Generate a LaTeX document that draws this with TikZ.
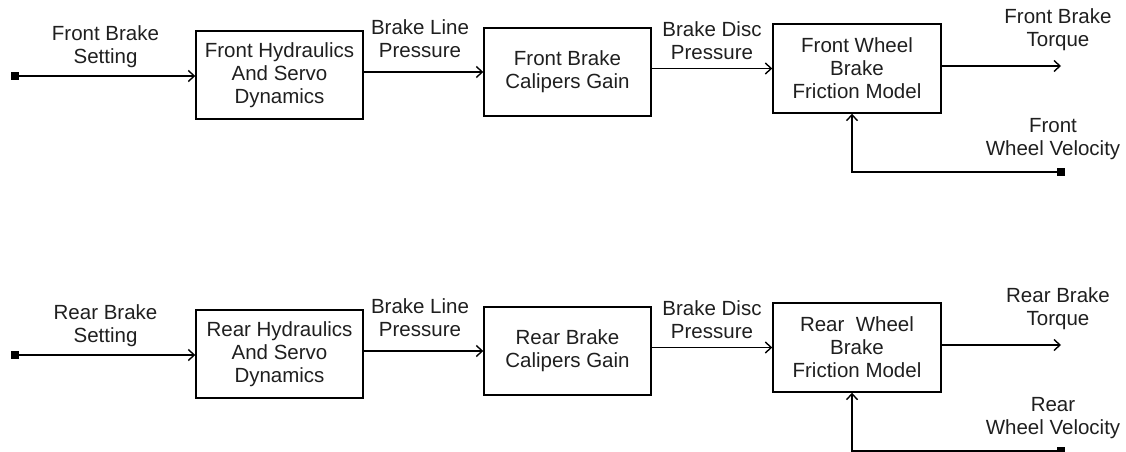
\documentclass[tikz,border=0pt]{standalone}
\usepackage{fontspec}
\setmainfont{Liberation Sans}
\usetikzlibrary{arrows.meta}
\begin{document}
\begin{tikzpicture}[x=1pt,y=-1pt,
  every node/.style={font=\fontsize{20.5}{23}\selectfont, text=black!88, inner sep=0pt},
  blk/.style={draw, line width=1.4pt, minimum width=167pt, minimum height=88pt, align=center},
  lbl/.style={align=center},
  term/.style={fill=black, minimum size=8.5pt},
  conn/.style={line width=1.4pt, -{Straight Barb[length=6pt,width=11pt]}},
  wire/.style={line width=1.4pt}]
\useasboundingbox (0,0) rectangle (1126,452);

% ---------- Front row ----------
\node[term] (fin) at (15,76) {};
\node[blk] (f1) at (279.5,75) {Front Hydraulics\\And Servo\\Dynamics};
\node[blk] (f2) at (567.5,72) {Front Brake\\Calipers Gain};
\node[blk, minimum width=168pt, minimum height=89pt] (f3) at (857,68.5) {Front Wheel\\Brake\\Friction Model};
\coordinate (fout) at (1061,66);
\node[term] (ffb) at (1061,172) {};
\coordinate (ffbx) at (852,172);

\node[lbl] (lf0) at (105.5,46.5) {Front Brake\\Setting};
\node[lbl] (lf1) at (420,38.5) {Brake Line\\Pressure};
\node[lbl] (lf2) at (712,40.5) {Brake Disc\\Pressure};
\node[lbl] (lf3) at (1058,30) {Front Brake\\Torque};
\node[lbl] (lf4) at (1053,139) {Front\\Wheel Velocity};

\draw[conn] (fin.center) -- (fin.center -| f1.west);
\draw[conn] (f1.east |- f2.west) -- (f2.west);
\draw[conn] (f2.east |- f3.west) -- (f3.west);
\draw[conn] (f3.east |- fout) -- (fout);
\draw[conn] (ffb.center) -- (ffbx) -- (ffbx |- f3.south);

% ---------- Rear row ----------
\begin{scope}[yshift=-279pt]
\node[term] (rin) at (15,76) {};
\node[blk] (r1) at (279.5,75) {Rear Hydraulics\\And Servo\\Dynamics};
\node[blk] (r2) at (567.5,72) {Rear Brake\\Calipers Gain};
\node[blk, minimum width=168pt, minimum height=89pt] (r3) at (857,68.5) {Rear~ Wheel\\Brake\\Friction Model};
\coordinate (rout) at (1061,66);
\node[term] (rfb) at (1061,172) {};
\coordinate (rfbx) at (852,172);

\node[lbl] (lr0) at (105.5,46.5) {Rear Brake\\Setting};
\node[lbl] (lr1) at (420,38.5) {Brake Line\\Pressure};
\node[lbl] (lr2) at (712,40.5) {Brake Disc\\Pressure};
\node[lbl] (lr3) at (1058,30) {Rear Brake\\Torque};
\node[lbl] (lr4) at (1053,139) {Rear\\Wheel Velocity};

\draw[conn] (rin.center) -- (rin.center -| r1.west);
\draw[conn] (r1.east |- r2.west) -- (r2.west);
\draw[conn] (r2.east |- r3.west) -- (r3.west);
\draw[conn] (r3.east |- rout) -- (rout);
\draw[conn] (rfb.center) -- (rfbx) -- (rfbx |- r3.south);
\end{scope}
\end{tikzpicture}
\end{document}
